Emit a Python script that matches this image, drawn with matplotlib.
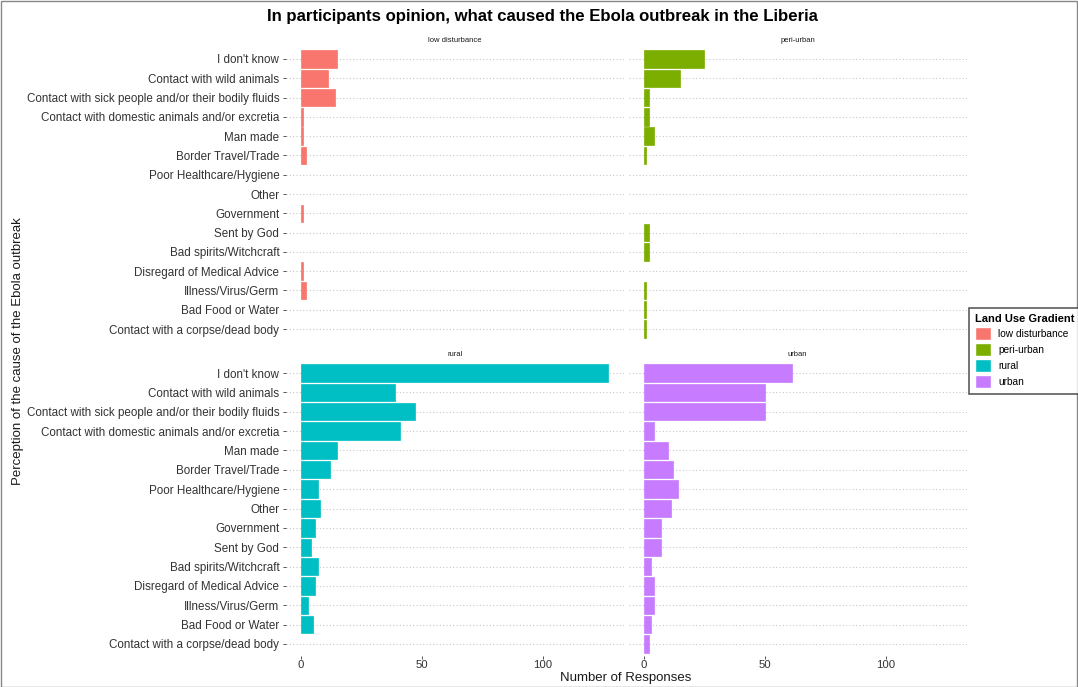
import matplotlib
matplotlib.use("Agg")
import matplotlib.pyplot as plt
from matplotlib.patches import Rectangle
import numpy as np

plt.rcParams['font.family'] = ['Liberation Sans', 'DejaVu Sans']

categories = [
    "I don't know",
    "Contact with wild animals",
    "Contact with sick people and/or their bodily fluids",
    "Contact with domestic animals and/or excretia",
    "Man made",
    "Border Travel/Trade",
    "Poor Healthcare/Hygiene",
    "Other",
    "Government",
    "Sent by God",
    "Bad spirits/Witchcraft",
    "Disregard of Medical Advice",
    "Illness/Virus/Germ",
    "Bad Food or Water",
    "Contact with a corpse/dead body",
]

low_disturbance = [15, 11, 14, 1, 1, 2, 0, 0, 1, 0, 0, 1, 2, 0, 0]
peri_urban = [25, 15, 2, 2, 4, 1, 0, 0, 0, 2, 2, 0, 1, 1, 1]
rural = [127, 39, 47, 41, 15, 12, 7, 8, 6, 4, 7, 6, 3, 5, 0]
urban = [61, 50, 50, 4, 10, 12, 14, 11, 7, 7, 3, 4, 4, 3, 2]

groups = ["low disturbance", "peri-urban", "rural", "urban"]
colors = ["#F8766D", "#7CAE00", "#00BFC4", "#C77CFF"]
series = [low_disturbance, peri_urban, rural, urban]
xticks = [0, 50, 100]

W, H = 1078, 687
fig = plt.figure(figsize=(W / 100, H / 100), dpi=100)

def px_axes(x0, x1, y0, y1):
    return fig.add_axes([x0 / W, 1 - y1 / H, (x1 - x0) / W, (y1 - y0) / H])

boxes = [
    (285.6, 623.7, 47.4, 340.6),
    (628.6, 966.7, 47.4, 340.6),
    (285.6, 623.7, 361.4, 655.6),
    (628.6, 966.7, 361.4, 655.6),
]

xmax = max(max(s) for s in series)
xlim = (-0.05 * xmax, 1.05 * xmax)
ypos = np.arange(len(categories))

for i, (g, c, s, b) in enumerate(zip(groups, colors, series, boxes)):
    ax = px_axes(*b)
    ax.set_xlim(*xlim)
    ax.set_ylim(len(categories) - 1 + 0.6, -0.6)
    for y in ypos:
        ax.axhline(y, color="#C8C8C8", linestyle=(0, (1, 2)), linewidth=0.8, zorder=0)
    vals = np.asarray(s, dtype=float)
    nz = vals > 0
    ax.barh(ypos[nz], vals[nz], height=0.9, color=c, edgecolor=c, linewidth=0.5,
            zorder=2, label=g)
    for sp in ax.spines.values():
        sp.set_visible(False)
    ax.set_facecolor("none")
    ax.text(0.5, 1.012, g, transform=ax.transAxes, ha="center", va="bottom",
            fontsize=5.5, color="#1A1A1A")
    ax.tick_params(axis="both", length=2.5, width=0.6, color="#333333",
                   labelsize=8.4, labelcolor="#333333", pad=2)
    ax.set_yticks(ypos)
    ax.set_xticks(xticks)
    if i % 2 == 0:
        ax.set_yticklabels(categories)
    else:
        ax.set_yticklabels([])
        ax.tick_params(axis="y", length=0)
    if i >= 2:
        ax.set_xticklabels([str(v) for v in xticks])
        ax.tick_params(axis="x", labelsize=8.2, pad=1)
    else:
        ax.set_xticklabels([])
        ax.tick_params(axis="x", length=0)

fig.text(542 / W, 1 - 17 / H,
         "In participants opinion, what caused the Ebola outbreak in the Liberia",
         ha="center", va="center", fontsize=12.1, fontweight="bold", color="black")
fig.text(626 / W, 1 - 678.5 / H, "Number of Responses", ha="center", va="center",
         fontsize=9.5, color="#1A1A1A")
fig.text(18 / W, 1 - 351 / H, "Perception of the cause of the Ebola outbreak",
         ha="center", va="center", rotation=90, fontsize=9.5, color="#1A1A1A")

# legend
handles = [Rectangle((0, 0), 1, 1, facecolor=c, edgecolor="white") for c in colors]
leg = fig.legend(handles, groups, title="Land Use Gradient", loc="center left",
                 bbox_to_anchor=(969 / W, 1 - 351 / H), fontsize=7.3,
                 title_fontproperties={"weight": "bold", "size": 8},
                 frameon=True, fancybox=False, edgecolor="#333333",
                 handlelength=1.6, handleheight=1.6, handletextpad=0.7,
                 labelspacing=0.28, borderpad=0.6, borderaxespad=0)
leg.get_frame().set_linewidth(1.2)
leg._legend_box.align = "left"

fig.patches.append(Rectangle((0.5 / W, 0.5 / H), 1 - 1.5 / W, 1 - 1.5 / H,
                             transform=fig.transFigure, fill=False,
                             edgecolor="#888888", linewidth=1.0))

fig.savefig("out.png", dpi=100)
